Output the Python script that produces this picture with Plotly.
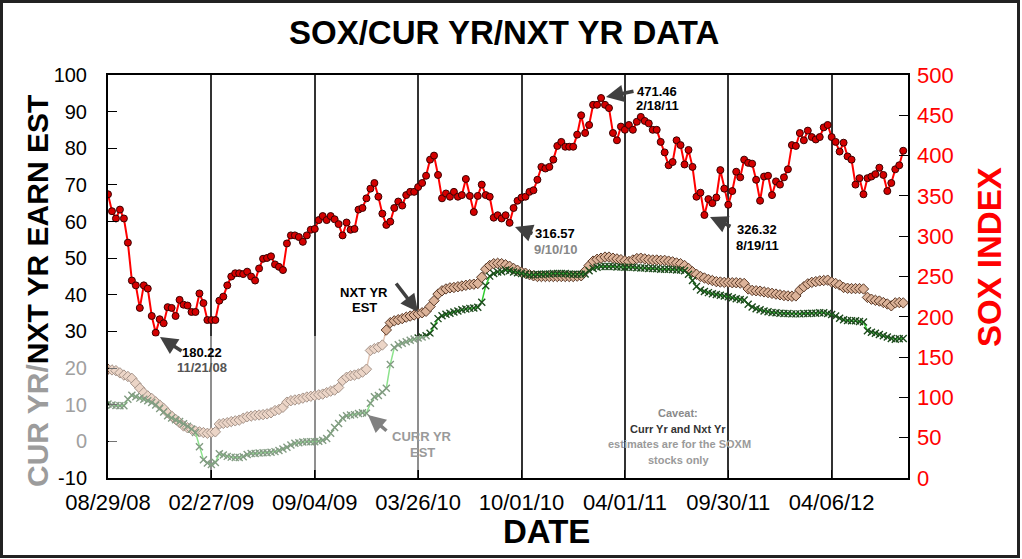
import plotly.graph_objects as go

# ---------------- data (weekly points, category index axis) ----------------
date_ticks = ["08/29/08", "02/27/09", "09/04/09", "03/26/10",
              "10/01/10", "04/01/11", "09/30/11", "04/06/12"]
weeks_per_tick = 26

sox_index = [
    352, 331, 322, 333, 322, 292, 245, 239, 211, 239,
    235, 201, 180.22, 197, 192, 212, 211, 201, 221, 215,
    214, 206, 206, 229, 217, 196, 196, 196, 220, 225,
    239, 250, 254, 254, 253, 256, 250, 245, 260, 272,
    273, 275, 265, 262, 258, 291, 301, 301, 299, 293,
    301, 308, 309, 320, 325, 320, 325, 321, 315, 301,
    317, 308, 309, 333, 335, 347, 359, 366, 349, 328,
    314, 318, 335, 343, 338, 351, 355, 355, 361, 366,
    375, 395, 400, 376, 347, 353, 349, 355, 349, 351,
    371, 350, 330, 350, 364, 351, 349, 323, 326, 322,
    326, 316.57, 335, 344, 348, 349, 355, 357, 370, 386,
    384, 386, 395, 412, 417, 411, 411, 411, 426, 450,
    428, 438, 463, 463, 471.46, 463, 459, 428, 419, 436,
    432, 438, 432, 442, 448, 443, 440, 432, 432, 417,
    404, 388, 392, 419, 413, 389, 407, 386, 349, 354,
    326.32, 346, 341, 348, 382, 359, 339, 356, 380, 373,
    395, 391, 390, 370, 344, 374, 375, 351, 368, 364,
    373, 383, 413, 412, 428, 419, 431, 423, 420, 423,
    435, 438, 423, 417, 405, 416, 399, 395, 364, 372,
    352, 372, 374, 377, 385, 376, 356, 366, 383, 388,
    406,
]

nxt_yr_est = [
    19.7, 19.5, 19.3, 18.7, 18.1, 17.7, 17.2, 15.8, 14.5, 13.3,
    12.4, 11.7, 10.8, 9.9, 9.0, 7.8, 6.9, 6.0, 5.1, 4.2,
    3.7, 3.3, 2.8, 2.6, 2.4, 2.2, 2.4, 2.6, 4.7, 4.9,
    5.1, 5.4, 5.6, 5.8, 6.3, 6.7, 6.9, 7.1, 7.2, 7.3,
    7.5, 7.8, 8.4, 8.7, 9.3, 10.7, 11.1, 11.3, 11.5, 11.8,
    12.1, 12.3, 12.5, 12.7, 12.9, 13.3, 13.7, 14.0, 14.7, 16.6,
    17.5, 17.9, 18.1, 18.4, 18.9, 19.7, 24.8, 25.3, 25.7, 26.3,
    30.4, 32.4, 32.9, 33.2, 33.5, 33.9, 34.2, 34.5, 34.8, 35.1,
    35.5, 36.8, 38.4, 40.2, 41.1, 41.6, 41.9, 42.0, 42.2, 42.4,
    42.6, 42.8, 42.9, 43.1, 44.8, 47.0, 48.0, 48.5, 48.6, 48.5,
    48.2, 47.8, 47.2, 46.7, 46.2, 45.9, 45.5, 45.2, 45.0, 45.0,
    45.0, 45.0, 45.0, 45.0, 45.0, 45.0, 45.0, 45.0, 45.1, 45.2,
    46.5, 48.0, 49.2, 49.7, 50.0, 50.3, 50.3, 50.0, 49.8, 49.6,
    49.3, 49.1, 49.5, 49.9, 50.0, 49.8, 49.6, 49.5, 49.5, 49.4,
    49.4, 49.2, 49.0, 48.7, 48.5, 48.0, 47.2, 46.3, 45.6, 45.0,
    44.6, 44.2, 43.9, 43.6, 43.5, 43.4, 43.4, 43.3, 43.3, 43.2,
    43.1, 41.6, 41.2, 41.1, 41.0, 40.8, 40.6, 40.4, 40.2, 40.0,
    39.8, 39.7, 39.6, 39.7, 41.3, 42.2, 43.0, 43.4, 43.6, 43.8,
    43.9, 44.0, 43.5, 43.1, 42.7, 42.0, 41.8, 41.7, 41.7, 41.7,
    41.6, 39.3, 38.8, 38.5, 38.3, 37.9, 37.5, 37.0, 37.8, 37.9,
    37.8,
]

cur_yr_est = [
    10.2, 9.9, 9.8, 9.7, 9.7, 11.5, 12.6, 12.2, 11.8, 11.5,
    11.1, 10.6, 9.9, 9.0, 8.0, 7.0, 6.4, 5.9, 5.4, 4.8,
    4.1, 3.4, 2.4, -1.5, -5.0, -5.9, -6.3, -5.8, -3.4, -3.7,
    -4.1, -4.3, -4.4, -4.4, -4.2, -3.6, -3.3, -3.3, -3.2, -3.1,
    -3.1, -3.0, -2.8, -2.5, -2.1, -1.6, -1.0, -0.5, -0.4, -0.2,
    -0.1, -0.1, -0.1, 0.0, 0.3, 0.8, 2.2, 3.8, 4.9, 6.4,
    7.0, 7.2, 7.3, 7.6, 7.8, 7.7, 10.4, 12.2, 12.5, 13.4,
    14.5, 21.0, 25.6, 26.4, 26.8, 27.2, 27.6, 27.9, 28.2, 28.5,
    28.8, 29.5, 31.5, 33.5, 34.3, 34.7, 35.0, 35.3, 35.6, 35.9,
    36.1, 36.3, 36.4, 36.6, 38.0, 42.5, 45.1, 45.8, 46.2, 46.3,
    46.8, 46.6, 46.2, 46.0, 45.8, 45.6, 45.4, 45.5, 45.6, 45.6,
    45.7, 45.7, 45.8, 45.8, 45.8, 45.8, 45.7, 45.6, 45.6, 45.6,
    45.7, 46.6, 47.2, 47.5, 47.7, 47.7, 47.7, 47.7, 47.6, 47.6,
    47.5, 47.5, 47.5, 47.4, 47.3, 47.3, 47.2, 47.2, 47.1, 47.0,
    47.0, 47.0, 46.9, 46.8, 46.8, 46.6, 45.6, 43.9, 42.3, 41.3,
    40.9, 40.6, 40.3, 40.1, 39.9, 39.7, 39.5, 39.2, 38.9, 38.7,
    38.6, 37.4, 36.7, 36.2, 35.9, 35.6, 35.4, 35.2, 35.1, 35.0,
    34.9, 34.9, 34.8, 34.8, 34.8, 34.9, 34.9, 35.0, 35.0, 35.1,
    35.1, 34.9, 34.6, 34.2, 33.6, 33.2, 33.0, 32.9, 32.9, 32.7,
    32.6, 30.2, 29.8, 29.5, 29.2, 28.8, 28.5, 28.1, 27.9, 28.0,
    28.1,
]

left_ticks = [-10, 0, 10, 20, 30, 40, 50, 60, 70, 80, 90, 100]
right_ticks = [0, 50, 100, 150, 200, 250, 300, 350, 400, 450, 500]

# ---------------- figure ----------------
FONT = "Liberation Sans, Arial, Helvetica, sans-serif"
idx = list(range(len(sox_index)))

fig = go.Figure()
fig.add_trace(go.Scatter(
    x=idx, y=nxt_yr_est, mode="lines+markers", name="NXT YR EST",
    line=dict(color="#c9977a", width=1.5),
    marker=dict(symbol="diamond", size=8, color="#dcb399",
                line=dict(color="#5a3a28", width=1)),
    yaxis="y"))
fig.add_trace(go.Scatter(
    x=idx, y=cur_yr_est, mode="lines+markers", name="CURR YR EST",
    line=dict(color="#2ecc2e", width=1.5),
    marker=dict(symbol="x-thin", size=7, color="#1c4a1c",
                line=dict(color="#1c4a1c", width=1.4)),
    yaxis="y"))
fig.add_trace(go.Scatter(
    x=idx, y=sox_index, mode="lines+markers", name="SOX",
    line=dict(color="#ff0000", width=2),
    marker=dict(symbol="circle", size=7, color="#d40000",
                line=dict(color="#3a0000", width=1)),
    yaxis="y2"))

# pixel -> paper helpers for labels (plot box 108..908 x 75..478)
L, R, T, B = 108, 908, 75, 478


def px(x):
    return (x - L) / (R - L)


def py(y):
    return (B - y) / (B - T)


ann = []


def text(x, y, s, size, color="black", angle=0):
    ann.append(dict(xref="paper", yref="paper", x=px(x), y=py(y), text=s,
                    showarrow=False, textangle=angle,
                    font=dict(size=size, color=color, family=FONT),
                    xanchor="center", yanchor="middle"))


def arrow(hx, hy, tx, ty, color="#404040"):
    ann.append(dict(xref="paper", yref="paper", x=px(hx), y=py(hy),
                    ax=tx - hx, ay=ty - hy, text="", showarrow=True,
                    arrowhead=2, arrowsize=1, arrowwidth=3.5,
                    arrowcolor=color))


text(504, 32, "<b>SOX/CUR YR/NXT YR DATA</b>", 33)
text(546, 531, "<b>DATE</b>", 33)
text(37, 291, "<b><span style='color:#9c9c9c'>CUR YR/</span>NXT YR EARN EST</b>",
     30, angle=-90)
text(989, 257, "<b>SOX INDEX</b>", 33, color="#ff0000", angle=-90)

text(202, 352, "<b>180.22</b>", 13)
text(202, 367, "<b>11/21/08</b>", 13, color="#555555")
arrow(160, 337, 183, 352)

text(555, 233, "<b>316.57</b>", 13)
text(555, 249, "<b>9/10/10</b>", 13, color="#888888")
arrow(515, 227, 534, 234)

text(657, 91, "<b>471.46</b>", 13)
text(657, 106, "<b>2/18/11</b>", 13)
arrow(606, 97, 635, 91)

text(757, 229, "<b>326.32</b>", 13)
text(757, 245, "<b>8/19/11</b>", 13)
arrow(710, 217, 732, 227)

text(364, 292, "<b>NXT YR</b>", 13)
text(364, 307, "<b>EST</b>", 13)
arrow(418, 312, 395, 282)

text(422, 436, "<b>CURR YR</b>", 13, color="#9a9a9a")
text(422, 452, "<b>EST</b>", 13, color="#9a9a9a")
arrow(368, 415, 388, 432, color="#808080")

text(678, 413, "<b>Caveat:</b>", 11, color="#8a8a8a")
text(678, 429, "<b>Curr Yr and Nxt Yr</b>", 11, color="#333333")
text(679, 444, "<b>estimates are for the SOXM</b>", 11, color="#9a9a9a")
text(678, 460, "<b>stocks only</b>", 11, color="#9a9a9a")

left_text = []
for v in left_ticks:
    if v in (0, 10, 20):
        left_text.append("<span style='color:#a0a0a0'>%d</span>" % v)
    else:
        left_text.append(str(v))

fig.update_layout(
    width=1022, height=559,
    margin=dict(l=L, r=1022 - R, t=T, b=559 - B, pad=0),
    paper_bgcolor="white", plot_bgcolor="white",
    showlegend=False,
    font=dict(family=FONT, color="black"),
    annotations=ann,
    xaxis=dict(
        range=[0, 201.2],
        tickvals=[k * weeks_per_tick for k in range(len(date_ticks))],
        ticktext=date_ticks,
        showgrid=True, gridcolor="#333333", gridwidth=1.5,
        ticks="inside", ticklen=8, tickcolor="black",
        showline=True, linecolor="black", linewidth=2, mirror=True,
        zeroline=False, tickfont=dict(size=22, family=FONT),
        ticklabelstandoff=4,
    ),
    yaxis=dict(
        range=[-10, 100], tickvals=left_ticks, ticktext=left_text,
        ticks="inside", ticklen=9, tickcolor="black",
        showline=True, linecolor="black", linewidth=2, mirror=True,
        showgrid=False, zeroline=False,
        tickfont=dict(size=20, family=FONT, color="black"),
        ticklabelstandoff=15,
    ),
    yaxis2=dict(
        range=[0, 500], tickvals=right_ticks,
        overlaying="y", side="right",
        ticks="inside", ticklen=9, tickcolor="black",
        showline=False, showgrid=False, zeroline=False,
        tickfont=dict(size=22, family=FONT, color="#ff0000"),
        ticklabelstandoff=8,
    ),
    shapes=[
        # washed-out band seen on the lower-left of the reference image
        dict(type="rect", xref="paper", yref="paper",
             x0=px(109), x1=px(440), y0=py(470), y1=py(336),
             fillcolor="rgba(255,255,255,0.45)", line=dict(width=0),
             layer="above"),
        dict(type="rect", xref="paper", yref="paper",
             x0=px(1.5), x1=px(1018.5), y0=py(556.5), y1=py(1.5),
             line=dict(color="#222222", width=3), layer="above"),
    ],
)

fig.write_html("out.html", config={"displayModeBar": False},
               post_script="document.body.style.margin='0';")
